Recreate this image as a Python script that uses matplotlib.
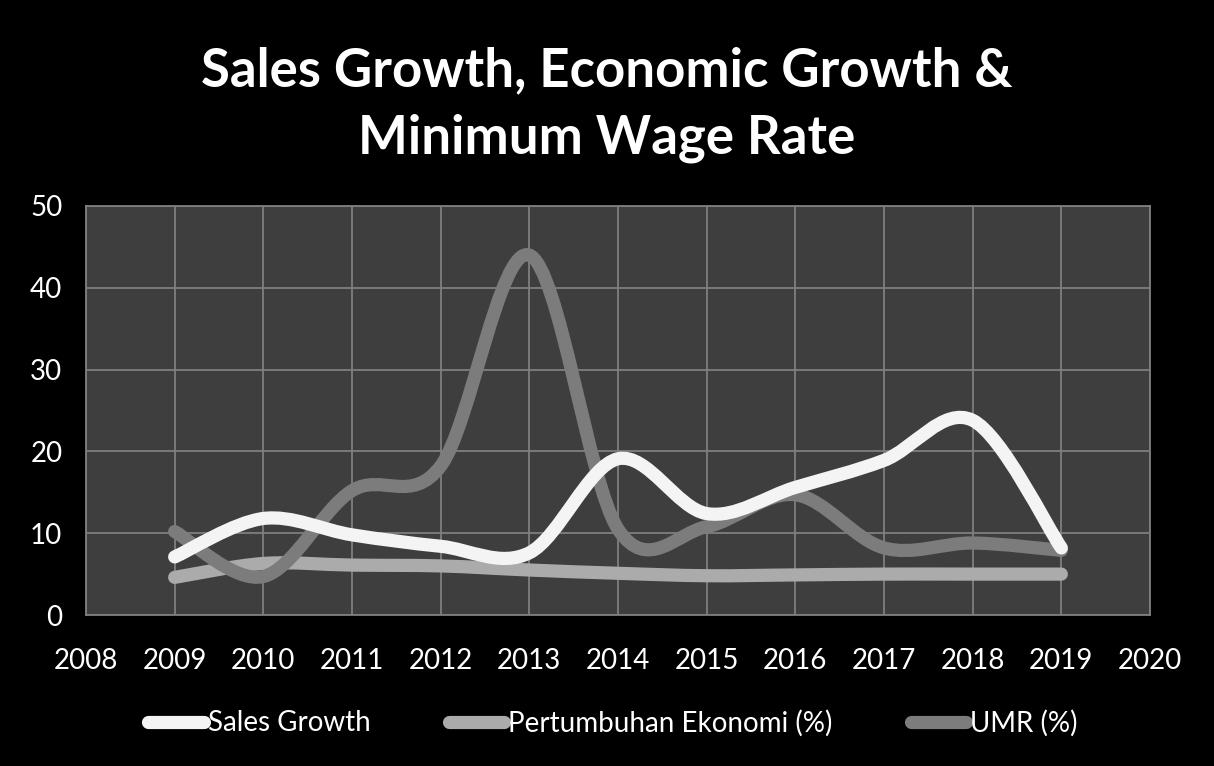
import numpy as np
import matplotlib.pyplot as plt
from matplotlib.path import Path
from matplotlib.patches import PathPatch
from matplotlib.lines import Line2D

years = [2009, 2010, 2011, 2012, 2013, 2014, 2015, 2016, 2017, 2018, 2019]
sales_growth = [7.1, 11.8, 9.8, 8.4, 7.6, 19.1, 12.4, 15.6, 18.9, 23.8, 8.2]
pertumbuhan_ekonomi = [4.6, 6.3, 6.1, 6.0, 5.5, 5.1, 4.8, 4.9, 5.0, 5.0, 5.0]
umr = [10.2, 4.7, 15.2, 18.2, 44.0, 10.5, 10.8, 14.7, 8.2, 8.8, 7.9]

series_names = ['Sales Growth', 'Pertumbuhan Ekonomi (%)', 'UMR (%)']
series_colors = ['#f4f4f4', '#ababab', '#7c7c7c']

plt.rcParams['font.family'] = ['Lato', 'DejaVu Sans']


def smooth_path(xs, ys, k=1.0 / 6):
    # cubic bezier segments through every point (catmull-rom style handles)
    pts = np.column_stack([xs, ys]).astype(float)
    n = len(pts)
    verts = [pts[0]]
    codes = [Path.MOVETO]
    for i in range(n - 1):
        p0 = pts[max(i - 1, 0)]
        p1 = pts[i]
        p2 = pts[i + 1]
        p3 = pts[min(i + 2, n - 1)]
        c1 = p1 + (p2 - p0) * k
        c2 = p2 - (p3 - p1) * k
        verts += [c1, c2, p2]
        codes += [Path.CURVE4] * 3
    return Path(verts, codes)


fig = plt.figure(figsize=(12.14, 7.66), dpi=100, facecolor='black')
ax = fig.add_axes([86 / 1214, 1 - 615 / 766, (1150 - 86) / 1214, (615 - 206) / 766])
ax.set_facecolor('#3e3e3e')

for vals, col, z in zip([sales_growth, pertumbuhan_ekonomi, umr], series_colors, [5, 3, 4]):
    patch = PathPatch(smooth_path(years, vals), facecolor='none', edgecolor=col,
                      lw=9.5, capstyle='round', joinstyle='round', zorder=z)
    ax.add_patch(patch)

ax.set_xlim(2008, 2020)
ax.set_ylim(0, 50)
ax.set_xticks(range(2008, 2021))
ax.set_yticks(range(0, 51, 10))
ax.grid(True, color='#7f7f7f', lw=1.3)
ax.set_axisbelow(True)
for s in ax.spines.values():
    s.set_color('#7f7f7f')
    s.set_linewidth(1.3)
ax.tick_params(length=0, colors='white', labelsize=20)
ax.tick_params(axis='x', pad=24)
ax.tick_params(axis='y', pad=17)

fig.text(0.5, 1 - 71 / 766, 'Sales Growth, Economic Growth &', ha='center', va='center',
         color='white', fontsize=38, fontweight='bold')
fig.text(0.5, 1 - 138 / 766, 'Minimum Wage Rate', ha='center', va='center',
         color='white', fontsize=38, fontweight='bold')

handles = [Line2D([0], [0], color=c, lw=9.5, solid_capstyle='round') for c in series_colors]
leg = fig.legend(handles, series_names, loc='center', bbox_to_anchor=(0.505, 1 - 723 / 766),
                 ncol=3, frameon=False, fontsize=20, handlelength=2.0, handletextpad=0.15,
                 columnspacing=2.8)
for t in leg.get_texts():
    t.set_color('white')

fig.savefig('out.png', dpi=100, facecolor='black')
